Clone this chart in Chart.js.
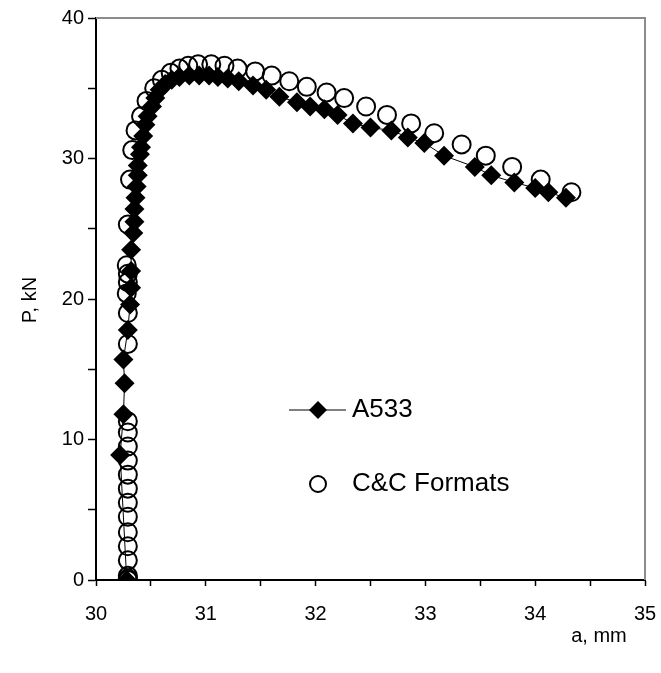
<!DOCTYPE html>
<html>
<head>
<meta charset="utf-8">
<script src="https://cdn.jsdelivr.net/npm/chart.js@4/dist/chart.umd.min.js"></script>
<style>
  html, body { margin: 0; padding: 0; background: #fff; }
  #wrap { width: 661px; height: 673px; }
</style>
</head>
<body>
<div id="wrap"><canvas id="chart" width="661" height="673"></canvas></div>
<script>
/* A533 crack length vs load */
const a533X = [30.28, 30.22, 30.25, 30.26, 30.25, 30.29, 30.31, 30.32, 30.32, 30.32, 30.34, 30.35, 30.35, 30.36, 30.37,
    30.38, 30.38, 30.40, 30.41, 30.43, 30.45, 30.47, 30.51, 30.54, 30.58, 30.63, 30.69, 30.76, 30.85, 30.94,
    31.03, 31.11, 31.20, 31.30, 31.43, 31.55, 31.67, 31.83, 31.95, 32.08, 32.20, 32.34, 32.50, 32.69, 32.84,
    32.99, 33.17, 33.45, 33.60, 33.81, 34.00, 34.12, 34.28];
const a533P = [0, 8.9, 11.8, 14.0, 15.7, 17.8, 19.6, 20.8, 22.0, 23.5, 24.7, 25.5, 26.4, 27.2, 28.0,
    28.8, 29.5, 30.3, 30.8, 31.6, 32.4, 33.0, 33.7, 34.3, 34.9, 35.3, 35.6, 35.8, 35.9, 35.9,
    35.9, 35.8, 35.7, 35.5, 35.2, 34.9, 34.4, 34.0, 33.7, 33.5, 33.1, 32.5, 32.2, 32.0, 31.5,
    31.1, 30.2, 29.4, 28.8, 28.3, 27.9, 27.6, 27.2];

const ccX = [30.29, 30.29, 30.29, 30.29, 30.29, 30.29, 30.29, 30.29, 30.29, 30.29, 30.29, 30.29, 30.29, 30.29,
    30.29, 30.29, 30.28, 30.29, 30.29, 30.28, 30.29, 30.31, 30.33, 30.36, 30.41, 30.46, 30.53, 30.60, 30.68,
    30.76, 30.84, 30.93, 31.05, 31.17, 31.29, 31.45, 31.60, 31.76, 31.92, 32.10, 32.26, 32.46, 32.65, 32.87,
    33.08, 33.33, 33.55, 33.79, 34.05, 34.33];
const ccP = [0, 0.1, 0.3, 1.4, 2.4, 3.4, 4.5, 5.5, 6.5, 7.5, 8.5, 9.5, 10.5, 11.3,
    16.8, 19.0, 20.4, 21.2, 21.8, 22.4, 25.3, 28.5, 30.6, 32.0, 33.0, 34.1, 35.0, 35.6, 36.1,
    36.4, 36.6, 36.7, 36.7, 36.6, 36.4, 36.2, 35.9, 35.5, 35.1, 34.7, 34.3, 33.7, 33.1, 32.5,
    31.8, 31.0, 30.2, 29.4, 28.5, 27.6];

const FONT = "'Liberation Sans', Arial, sans-serif";

const toPts = (xs, ys) => xs.map((x, i) => ({ x: x, y: ys[i] }));

// box, legend and axis titles
const framePlugin = {
    id: 'frame',
    afterDraw(chart) {
        const ctx = chart.ctx;
        const a = chart.chartArea;
        ctx.save();
        ctx.strokeStyle = '#8c8c8c';
        ctx.lineWidth = 2;
        ctx.beginPath();
        ctx.moveTo(a.left, a.top);
        ctx.lineTo(a.right, a.top);
        ctx.lineTo(a.right, a.bottom);
        ctx.stroke();

        // legend
        ctx.strokeStyle = '#000';
        ctx.lineWidth = 1;
        ctx.beginPath();
        ctx.moveTo(289, 410); ctx.lineTo(346, 410);
        ctx.stroke();
        ctx.fillStyle = '#000';
        ctx.beginPath();
        ctx.moveTo(318, 401); ctx.lineTo(327, 410); ctx.lineTo(318, 419); ctx.lineTo(309, 410);
        ctx.closePath(); ctx.fill();
        ctx.lineWidth = 2;
        ctx.beginPath();
        ctx.arc(318, 484, 8, 0, Math.PI * 2);
        ctx.stroke();

        ctx.font = '26px ' + FONT;
        ctx.textBaseline = 'middle';
        ctx.textAlign = 'left';
        ctx.fillText('A533', 352, 410);
        ctx.fillText('C&C Formats', 352, 484);

        // axis titles
        ctx.font = '20px ' + FONT;
        ctx.textAlign = 'center';
        ctx.fillText('a, mm', 599, 636);
        ctx.translate(30, 300);
        ctx.rotate(-Math.PI / 2);
        ctx.fillText('P, kN', 0, 0);
        ctx.restore();
    }
};

new Chart(document.getElementById('chart'), {
    type: 'scatter',
    data: {
        datasets: [
            {
                label: 'A533',
                data: toPts(a533X, a533P),
                showLine: true,
                borderColor: '#000',
                borderWidth: 1,
                backgroundColor: '#000',
                pointStyle: 'rectRot',
                pointRadius: 10,
                pointBorderWidth: 0,
                order: 0
            },
            {
                label: 'C&C Formats',
                data: toPts(ccX, ccP),
                showLine: false,
                borderColor: '#000',
                backgroundColor: 'rgba(0,0,0,0)',
                pointStyle: 'circle',
                pointRadius: 9,
                pointBorderWidth: 2,
                order: 1
            }
        ]
    },
    options: {
        responsive: false,
        animation: false,
        layout: { padding: { left: 0, top: 18, right: 16, bottom: 0 } },
        plugins: { legend: { display: false }, tooltip: { enabled: false } },
        scales: {
            x: {
                type: 'linear', min: 30, max: 35,
                afterFit: s => { s.height = 93; s.paddingLeft = 0; s.paddingRight = 0; },
                border: { color: '#000', width: 2 },
                grid: { drawOnChartArea: false, tickLength: 6, tickColor: '#000', tickWidth: 1.5 },
                ticks: {
                    stepSize: 0.5, padding: 16, color: '#000', maxRotation: 0,
                    font: { family: FONT, size: 20 },
                    callback: v => (Math.abs(v - Math.round(v)) < 1e-6 ? String(Math.round(v)) : '')
                }
            },
            y: {
                type: 'linear', min: 0, max: 40,
                afterFit: s => { s.width = 96; s.paddingTop = 0; s.paddingBottom = 0; },
                border: { color: '#000', width: 2 },
                grid: { drawOnChartArea: false, tickLength: 8, tickColor: '#000', tickWidth: 1.5 },
                ticks: {
                    stepSize: 5, padding: 4, color: '#000',
                    font: { family: FONT, size: 20 },
                    callback: v => (v % 10 === 0 ? String(v) : '')
                }
            }
        }
    },
    plugins: [framePlugin]
});
</script>
</body>
</html>
